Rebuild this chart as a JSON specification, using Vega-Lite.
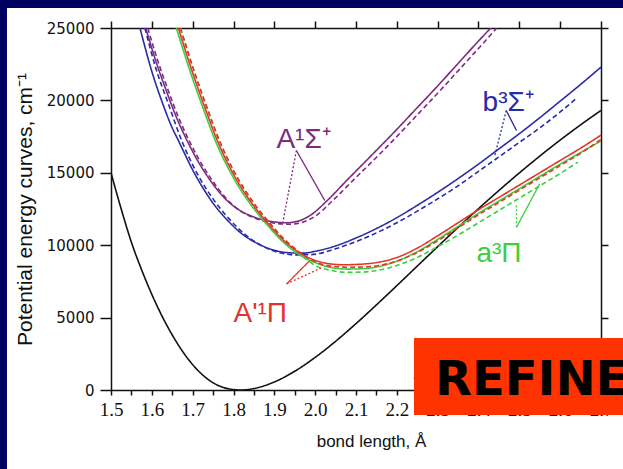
{
  "$schema": "https://vega.github.io/schema/vega-lite/v6.json",
  "width": 490,
  "height": 362,
  "autosize": {"type": "none"},
  "padding": {"left": 111, "top": 28, "right": 22, "bottom": 79},
  "background": "#ffffff",
  "config": {
    "view": {"stroke": null},
    "axis": {
      "grid": false,
      "labelColor": "#111111",
      "titleColor": "#111111",
      "domainColor": "#111111",
      "tickColor": "#111111",
      "domainWidth": 1.5,
      "tickWidth": 1.5,
      "titleFontWeight": "normal",
      "labelOverlap": false,
      "labelFlush": false,
      "labelBound": false
    }
  },
  "resolve": {"axis": {"x": "independent", "y": "independent"}},
  "datasets": {
    "curves": [
      {"s": "X", "k": "solid", "r": 1.5, "E": 15000},
      {"s": "X", "k": "solid", "r": 1.525, "E": 12500},
      {"s": "X", "k": "solid", "r": 1.55, "E": 10200},
      {"s": "X", "k": "solid", "r": 1.575, "E": 8300},
      {"s": "X", "k": "solid", "r": 1.6, "E": 6600},
      {"s": "X", "k": "solid", "r": 1.65, "E": 3800},
      {"s": "X", "k": "solid", "r": 1.7, "E": 1750},
      {"s": "X", "k": "solid", "r": 1.75, "E": 500},
      {"s": "X", "k": "solid", "r": 1.8, "E": 30},
      {"s": "X", "k": "solid", "r": 1.82, "E": 0},
      {"s": "X", "k": "solid", "r": 1.85, "E": 100},
      {"s": "X", "k": "solid", "r": 1.9, "E": 556},
      {"s": "X", "k": "solid", "r": 1.95, "E": 1296},
      {"s": "X", "k": "solid", "r": 2.0, "E": 2252},
      {"s": "X", "k": "solid", "r": 2.05, "E": 3362},
      {"s": "X", "k": "solid", "r": 2.1, "E": 4584},
      {"s": "X", "k": "solid", "r": 2.15, "E": 5877},
      {"s": "X", "k": "solid", "r": 2.2, "E": 7206},
      {"s": "X", "k": "solid", "r": 2.25, "E": 8557},
      {"s": "X", "k": "solid", "r": 2.3, "E": 9899},
      {"s": "X", "k": "solid", "r": 2.35, "E": 11228},
      {"s": "X", "k": "solid", "r": 2.4, "E": 12522},
      {"s": "X", "k": "solid", "r": 2.45, "E": 13779},
      {"s": "X", "k": "solid", "r": 2.5, "E": 14991},
      {"s": "X", "k": "solid", "r": 2.55, "E": 16152},
      {"s": "X", "k": "solid", "r": 2.6, "E": 17260},
      {"s": "X", "k": "solid", "r": 2.65, "E": 18311},
      {"s": "X", "k": "solid", "r": 2.7, "E": 19308},

      {"s": "A", "k": "solid", "r": 1.585, "E": 25000},
      {"s": "A", "k": "solid", "r": 1.61, "E": 22700},
      {"s": "A", "k": "solid", "r": 1.635, "E": 20700},
      {"s": "A", "k": "solid", "r": 1.66, "E": 18850},
      {"s": "A", "k": "solid", "r": 1.685, "E": 17300},
      {"s": "A", "k": "solid", "r": 1.71, "E": 15950},
      {"s": "A", "k": "solid", "r": 1.74, "E": 14600},
      {"s": "A", "k": "solid", "r": 1.775, "E": 13350},
      {"s": "A", "k": "solid", "r": 1.81, "E": 12500},
      {"s": "A", "k": "solid", "r": 1.85, "E": 11950},
      {"s": "A", "k": "solid", "r": 1.89, "E": 11650},
      {"s": "A", "k": "solid", "r": 1.93, "E": 11550},
      {"s": "A", "k": "solid", "r": 1.96, "E": 11680},
      {"s": "A", "k": "solid", "r": 1.99, "E": 12100},
      {"s": "A", "k": "solid", "r": 2.03, "E": 13100},
      {"s": "A", "k": "solid", "r": 2.08, "E": 14550},
      {"s": "A", "k": "solid", "r": 2.15, "E": 16550},
      {"s": "A", "k": "solid", "r": 2.2, "E": 18000},
      {"s": "A", "k": "solid", "r": 2.25, "E": 19500},
      {"s": "A", "k": "solid", "r": 2.3, "E": 21000},
      {"s": "A", "k": "solid", "r": 2.35, "E": 22550},
      {"s": "A", "k": "solid", "r": 2.4, "E": 24100},
      {"s": "A", "k": "solid", "r": 2.43, "E": 25000},

      {"s": "A", "k": "dashed", "r": 1.59, "E": 25000},
      {"s": "A", "k": "dashed", "r": 1.615, "E": 22700},
      {"s": "A", "k": "dashed", "r": 1.64, "E": 20700},
      {"s": "A", "k": "dashed", "r": 1.665, "E": 18850},
      {"s": "A", "k": "dashed", "r": 1.69, "E": 17300},
      {"s": "A", "k": "dashed", "r": 1.715, "E": 15950},
      {"s": "A", "k": "dashed", "r": 1.745, "E": 14600},
      {"s": "A", "k": "dashed", "r": 1.78, "E": 13300},
      {"s": "A", "k": "dashed", "r": 1.815, "E": 12400},
      {"s": "A", "k": "dashed", "r": 1.855, "E": 11850},
      {"s": "A", "k": "dashed", "r": 1.9, "E": 11520},
      {"s": "A", "k": "dashed", "r": 1.94, "E": 11450},
      {"s": "A", "k": "dashed", "r": 1.97, "E": 11600},
      {"s": "A", "k": "dashed", "r": 2.0, "E": 12000},
      {"s": "A", "k": "dashed", "r": 2.04, "E": 13000},
      {"s": "A", "k": "dashed", "r": 2.09, "E": 14400},
      {"s": "A", "k": "dashed", "r": 2.16, "E": 16350},
      {"s": "A", "k": "dashed", "r": 2.21, "E": 17800},
      {"s": "A", "k": "dashed", "r": 2.26, "E": 19300},
      {"s": "A", "k": "dashed", "r": 2.31, "E": 20800},
      {"s": "A", "k": "dashed", "r": 2.36, "E": 22350},
      {"s": "A", "k": "dashed", "r": 2.41, "E": 23900},
      {"s": "A", "k": "dashed", "r": 2.445, "E": 25000},

      {"s": "B", "k": "solid", "r": 1.571, "E": 25000},
      {"s": "B", "k": "solid", "r": 1.6, "E": 22000},
      {"s": "B", "k": "solid", "r": 1.625, "E": 19900},
      {"s": "B", "k": "solid", "r": 1.65, "E": 18100},
      {"s": "B", "k": "solid", "r": 1.665, "E": 17230},
      {"s": "B", "k": "solid", "r": 1.7, "E": 15200},
      {"s": "B", "k": "solid", "r": 1.75, "E": 12900},
      {"s": "B", "k": "solid", "r": 1.786, "E": 11700},
      {"s": "B", "k": "solid", "r": 1.82, "E": 10800},
      {"s": "B", "k": "solid", "r": 1.86, "E": 10100},
      {"s": "B", "k": "solid", "r": 1.9, "E": 9650},
      {"s": "B", "k": "solid", "r": 1.94, "E": 9470},
      {"s": "B", "k": "solid", "r": 1.97, "E": 9450},
      {"s": "B", "k": "solid", "r": 2.0, "E": 9580},
      {"s": "B", "k": "solid", "r": 2.05, "E": 9950},
      {"s": "B", "k": "solid", "r": 2.1, "E": 10500},
      {"s": "B", "k": "solid", "r": 2.15, "E": 11150},
      {"s": "B", "k": "solid", "r": 2.2, "E": 11900},
      {"s": "B", "k": "solid", "r": 2.25, "E": 12750},
      {"s": "B", "k": "solid", "r": 2.3, "E": 13650},
      {"s": "B", "k": "solid", "r": 2.35, "E": 14600},
      {"s": "B", "k": "solid", "r": 2.4, "E": 15600},
      {"s": "B", "k": "solid", "r": 2.45, "E": 16650},
      {"s": "B", "k": "solid", "r": 2.5, "E": 17700},
      {"s": "B", "k": "solid", "r": 2.55, "E": 18800},
      {"s": "B", "k": "solid", "r": 2.6, "E": 19950},
      {"s": "B", "k": "solid", "r": 2.65, "E": 21100},
      {"s": "B", "k": "solid", "r": 2.7, "E": 22300},

      {"s": "B", "k": "dashed", "r": 1.583, "E": 25000},
      {"s": "B", "k": "dashed", "r": 1.61, "E": 22200},
      {"s": "B", "k": "dashed", "r": 1.64, "E": 19800},
      {"s": "B", "k": "dashed", "r": 1.673, "E": 17230},
      {"s": "B", "k": "dashed", "r": 1.71, "E": 15000},
      {"s": "B", "k": "dashed", "r": 1.75, "E": 13200},
      {"s": "B", "k": "dashed", "r": 1.79, "E": 11800},
      {"s": "B", "k": "dashed", "r": 1.83, "E": 10700},
      {"s": "B", "k": "dashed", "r": 1.87, "E": 9950},
      {"s": "B", "k": "dashed", "r": 1.91, "E": 9500},
      {"s": "B", "k": "dashed", "r": 1.95, "E": 9330},
      {"s": "B", "k": "dashed", "r": 1.99, "E": 9350},
      {"s": "B", "k": "dashed", "r": 2.05, "E": 9750},
      {"s": "B", "k": "dashed", "r": 2.1, "E": 10250},
      {"s": "B", "k": "dashed", "r": 2.15, "E": 10850},
      {"s": "B", "k": "dashed", "r": 2.2, "E": 11550},
      {"s": "B", "k": "dashed", "r": 2.25, "E": 12350},
      {"s": "B", "k": "dashed", "r": 2.3, "E": 13200},
      {"s": "B", "k": "dashed", "r": 2.35, "E": 14100},
      {"s": "B", "k": "dashed", "r": 2.4, "E": 15100},
      {"s": "B", "k": "dashed", "r": 2.45, "E": 16100},
      {"s": "B", "k": "dashed", "r": 2.5, "E": 17100},
      {"s": "B", "k": "dashed", "r": 2.55, "E": 18100},
      {"s": "B", "k": "dashed", "r": 2.6, "E": 19200},
      {"s": "B", "k": "dashed", "r": 2.64, "E": 20150},

      {"s": "a", "k": "solid", "r": 1.66, "E": 25000},
      {"s": "a", "k": "solid", "r": 1.695, "E": 21900},
      {"s": "a", "k": "solid", "r": 1.725, "E": 19500},
      {"s": "a", "k": "solid", "r": 1.755, "E": 17250},
      {"s": "a", "k": "solid", "r": 1.795, "E": 14900},
      {"s": "a", "k": "solid", "r": 1.845, "E": 12700},
      {"s": "a", "k": "solid", "r": 1.875, "E": 11650},
      {"s": "a", "k": "solid", "r": 1.915, "E": 10400},
      {"s": "a", "k": "solid", "r": 1.955, "E": 9450},
      {"s": "a", "k": "solid", "r": 2.0, "E": 8800},
      {"s": "a", "k": "solid", "r": 2.04, "E": 8450},
      {"s": "a", "k": "solid", "r": 2.08, "E": 8350},
      {"s": "a", "k": "solid", "r": 2.12, "E": 8380},
      {"s": "a", "k": "solid", "r": 2.16, "E": 8550},
      {"s": "a", "k": "solid", "r": 2.2, "E": 8900},
      {"s": "a", "k": "solid", "r": 2.25, "E": 9550},
      {"s": "a", "k": "solid", "r": 2.3, "E": 10400},
      {"s": "a", "k": "solid", "r": 2.35, "E": 11300},
      {"s": "a", "k": "solid", "r": 2.4, "E": 12200},
      {"s": "a", "k": "solid", "r": 2.45, "E": 13050},
      {"s": "a", "k": "solid", "r": 2.5, "E": 13900},
      {"s": "a", "k": "solid", "r": 2.55, "E": 14750},
      {"s": "a", "k": "solid", "r": 2.6, "E": 15600},
      {"s": "a", "k": "solid", "r": 2.65, "E": 16400},
      {"s": "a", "k": "solid", "r": 2.7, "E": 17200},

      {"s": "a", "k": "dashed", "r": 1.67, "E": 25000},
      {"s": "a", "k": "dashed", "r": 1.705, "E": 21900},
      {"s": "a", "k": "dashed", "r": 1.735, "E": 19500},
      {"s": "a", "k": "dashed", "r": 1.765, "E": 17250},
      {"s": "a", "k": "dashed", "r": 1.805, "E": 14900},
      {"s": "a", "k": "dashed", "r": 1.855, "E": 12700},
      {"s": "a", "k": "dashed", "r": 1.885, "E": 11650},
      {"s": "a", "k": "dashed", "r": 1.925, "E": 10350},
      {"s": "a", "k": "dashed", "r": 1.965, "E": 9350},
      {"s": "a", "k": "dashed", "r": 2.0, "E": 8600},
      {"s": "a", "k": "dashed", "r": 2.04, "E": 8250},
      {"s": "a", "k": "dashed", "r": 2.08, "E": 8120},
      {"s": "a", "k": "dashed", "r": 2.12, "E": 8150},
      {"s": "a", "k": "dashed", "r": 2.16, "E": 8300},
      {"s": "a", "k": "dashed", "r": 2.2, "E": 8600},
      {"s": "a", "k": "dashed", "r": 2.25, "E": 9150},
      {"s": "a", "k": "dashed", "r": 2.3, "E": 9900},
      {"s": "a", "k": "dashed", "r": 2.35, "E": 10700},
      {"s": "a", "k": "dashed", "r": 2.4, "E": 11550},
      {"s": "a", "k": "dashed", "r": 2.45, "E": 12400},
      {"s": "a", "k": "dashed", "r": 2.5, "E": 13250},
      {"s": "a", "k": "dashed", "r": 2.55, "E": 14100},
      {"s": "a", "k": "dashed", "r": 2.6, "E": 14950},
      {"s": "a", "k": "dashed", "r": 2.643, "E": 15730},

      {"s": "P", "k": "solid", "r": 1.665, "E": 25000},
      {"s": "P", "k": "solid", "r": 1.7, "E": 21900},
      {"s": "P", "k": "solid", "r": 1.73, "E": 19500},
      {"s": "P", "k": "solid", "r": 1.76, "E": 17250},
      {"s": "P", "k": "solid", "r": 1.8, "E": 14900},
      {"s": "P", "k": "solid", "r": 1.85, "E": 12700},
      {"s": "P", "k": "solid", "r": 1.88, "E": 11650},
      {"s": "P", "k": "solid", "r": 1.92, "E": 10400},
      {"s": "P", "k": "solid", "r": 1.96, "E": 9500},
      {"s": "P", "k": "solid", "r": 2.0, "E": 8950},
      {"s": "P", "k": "solid", "r": 2.04, "E": 8700},
      {"s": "P", "k": "solid", "r": 2.07, "E": 8650},
      {"s": "P", "k": "solid", "r": 2.1, "E": 8670},
      {"s": "P", "k": "solid", "r": 2.15, "E": 8800},
      {"s": "P", "k": "solid", "r": 2.2, "E": 9150},
      {"s": "P", "k": "solid", "r": 2.25, "E": 9800},
      {"s": "P", "k": "solid", "r": 2.3, "E": 10650},
      {"s": "P", "k": "solid", "r": 2.35, "E": 11550},
      {"s": "P", "k": "solid", "r": 2.4, "E": 12450},
      {"s": "P", "k": "solid", "r": 2.45, "E": 13300},
      {"s": "P", "k": "solid", "r": 2.5, "E": 14150},
      {"s": "P", "k": "solid", "r": 2.55, "E": 15000},
      {"s": "P", "k": "solid", "r": 2.6, "E": 15850},
      {"s": "P", "k": "solid", "r": 2.65, "E": 16700},
      {"s": "P", "k": "solid", "r": 2.7, "E": 17600},

      {"s": "P", "k": "dashed", "r": 1.67, "E": 25000},
      {"s": "P", "k": "dashed", "r": 1.705, "E": 21900},
      {"s": "P", "k": "dashed", "r": 1.735, "E": 19500},
      {"s": "P", "k": "dashed", "r": 1.765, "E": 17250},
      {"s": "P", "k": "dashed", "r": 1.805, "E": 14900},
      {"s": "P", "k": "dashed", "r": 1.855, "E": 12700},
      {"s": "P", "k": "dashed", "r": 1.885, "E": 11650},
      {"s": "P", "k": "dashed", "r": 1.925, "E": 10400},
      {"s": "P", "k": "dashed", "r": 1.965, "E": 9450},
      {"s": "P", "k": "dashed", "r": 2.0, "E": 8850},
      {"s": "P", "k": "dashed", "r": 2.04, "E": 8550},
      {"s": "P", "k": "dashed", "r": 2.08, "E": 8480},
      {"s": "P", "k": "dashed", "r": 2.12, "E": 8500},
      {"s": "P", "k": "dashed", "r": 2.16, "E": 8620},
      {"s": "P", "k": "dashed", "r": 2.2, "E": 8900},
      {"s": "P", "k": "dashed", "r": 2.25, "E": 9500},
      {"s": "P", "k": "dashed", "r": 2.3, "E": 10300},
      {"s": "P", "k": "dashed", "r": 2.35, "E": 11200},
      {"s": "P", "k": "dashed", "r": 2.4, "E": 12100},
      {"s": "P", "k": "dashed", "r": 2.45, "E": 12950},
      {"s": "P", "k": "dashed", "r": 2.5, "E": 13800},
      {"s": "P", "k": "dashed", "r": 2.55, "E": 14650},
      {"s": "P", "k": "dashed", "r": 2.6, "E": 15500},
      {"s": "P", "k": "dashed", "r": 2.65, "E": 16350},
      {"s": "P", "k": "dashed", "r": 2.7, "E": 17300}
    ],
    "arrows": [
      {"s": "A", "k": "dotted", "r": 1.954, "E": 16540, "r2": 1.921, "E2": 11590},
      {"s": "A", "k": "solid", "r": 1.954, "E": 16540, "r2": 2.0235, "E2": 13087},
      {"s": "B", "k": "dotted", "r": 2.468, "E": 19300, "r2": 2.44, "E2": 16200},
      {"s": "B", "k": "solid", "r": 2.468, "E": 19300, "r2": 2.493, "E2": 17920},
      {"s": "a", "k": "dotted", "r": 2.493, "E": 11240, "r2": 2.493, "E2": 12800},
      {"s": "a", "k": "solid", "r": 2.493, "E": 11240, "r2": 2.55, "E2": 14240},
      {"s": "P", "k": "solid", "r": 1.93, "E": 7330, "r2": 1.987, "E2": 8943},
      {"s": "P", "k": "dotted", "r": 1.93, "E": 7330, "r2": 2.019, "E2": 8480}
    ],
    "labels": [
      {"s": "A", "t": "A¹Σ⁺", "r": 1.905, "E": 16740},
      {"s": "B", "t": "b³Σ⁺", "r": 2.41, "E": 19300},
      {"s": "P", "t": "A'¹Π", "r": 1.8, "E": 4730},
      {"s": "a", "t": "a³Π", "r": 2.395, "E": 8874},
      {"s": "X", "t": "X¹Σ⁺", "r": 2.239, "E": 794}
    ]
  },
  "layer": [
    {
      "data": {"values": [{}]},
      "mark": {"type": "rect", "color": "#000060"},
      "encoding": {
        "x": {"datum": 1.0, "type": "quantitative", "scale": {"domain": [1.5, 2.7], "nice": false, "zero": false}, "axis": null},
        "x2": {"datum": 3.0},
        "y": {"datum": 26381, "type": "quantitative", "scale": {"domain": [0, 25000], "nice": false, "zero": false}, "axis": null},
        "y2": {"datum": 30000}
      }
    },
    {
      "data": {"values": [{}]},
      "mark": {"type": "rect", "color": "#000060"},
      "encoding": {
        "x": {"datum": 1.0, "type": "quantitative", "scale": {"domain": [1.5, 2.7], "nice": false, "zero": false}, "axis": null},
        "x2": {"datum": 1.2453},
        "y": {"datum": -8000, "type": "quantitative", "scale": {"domain": [0, 25000], "nice": false, "zero": false}, "axis": null},
        "y2": {"datum": 30000}
      }
    },
    {
      "data": {"name": "curves"},
      "mark": {"type": "line", "strokeWidth": 1.6, "interpolate": "monotone", "clip": true},
      "encoding": {
        "x": {
          "field": "r", "type": "quantitative",
          "scale": {"domain": [1.5, 2.7], "nice": false, "zero": false},
          "axis": {
            "orient": "bottom",
            "values": [1.5, 1.55, 1.6, 1.65, 1.7, 1.75, 1.8, 1.85, 1.9, 1.95, 2.0, 2.05, 2.1, 2.15, 2.2, 2.25, 2.3, 2.35, 2.4, 2.45, 2.5, 2.55, 2.6, 2.65, 2.7],
            "labelExpr": "abs(datum.value * 10 - round(datum.value * 10)) > 0.01 ? '' : format(datum.value, '.1f')",
            "labelFont": "Liberation Serif",
            "labelFontSize": 19,
            "tickSize": 5,
            "labelPadding": 5,
            "title": "bond length, Å",
            "titleFont": "Liberation Sans",
            "titleFontSize": 17,
            "titlePadding": 14,
            "titleX": 260
          }
        },
        "y": {
          "field": "E", "type": "quantitative",
          "scale": {"domain": [0, 25000], "nice": false, "zero": false},
          "axis": {
            "orient": "left",
            "values": [0, 5000, 10000, 15000, 20000, 25000],
            "format": "d",
            "labelFont": "DejaVu Sans",
            "labelFontSize": 15,
            "tickSize": 11,
            "labelPadding": 6,
            "title": "Potential energy curves, cm⁻¹",
            "titleFont": "Liberation Sans",
            "titleFontSize": 21,
            "titlePadding": 11
          }
        },
        "color": {
          "field": "s", "type": "nominal", "legend": null,
          "scale": {"domain": ["X", "A", "B", "P", "a"], "range": ["#111111", "#7d2b80", "#2a2aa6", "#e3342b", "#3ccf3c"]}
        },
        "strokeDash": {
          "field": "k", "type": "nominal", "legend": null,
          "scale": {"domain": ["solid", "dashed", "dotted"], "range": [[1, 0], [5, 3], [2, 2]]}
        }
      }
    },
    {
      "data": {"name": "arrows"},
      "mark": {"type": "rule", "strokeWidth": 1.3},
      "encoding": {
        "x": {"field": "r", "type": "quantitative", "scale": {"domain": [1.5, 2.7], "nice": false, "zero": false}, "axis": null},
        "x2": {"field": "r2"},
        "y": {"field": "E", "type": "quantitative", "scale": {"domain": [0, 25000], "nice": false, "zero": false}, "axis": null},
        "y2": {"field": "E2"},
        "color": {"field": "s", "type": "nominal", "legend": null},
        "strokeDash": {"field": "k", "type": "nominal", "legend": null}
      }
    },
    {
      "data": {"name": "labels"},
      "mark": {"type": "text", "font": "Liberation Sans", "fontSize": 28, "align": "left", "baseline": "alphabetic"},
      "encoding": {
        "x": {"field": "r", "type": "quantitative", "scale": {"domain": [1.5, 2.7], "nice": false, "zero": false}, "axis": null},
        "y": {"field": "E", "type": "quantitative", "scale": {"domain": [0, 25000], "nice": false, "zero": false}, "axis": null},
        "text": {"field": "t"},
        "color": {"field": "s", "type": "nominal", "legend": null}
      }
    },
    {
      "data": {"values": [{"r": 1.5, "E": 0}]},
      "mark": {"type": "point", "opacity": 0},
      "encoding": {
        "x": {
          "field": "r", "type": "quantitative",
          "scale": {"domain": [1.5, 2.7], "nice": false, "zero": false},
          "axis": {"orient": "top", "values": [1.5, 1.6, 1.7, 1.8, 1.9, 2.0, 2.1, 2.2, 2.3, 2.4, 2.5, 2.6, 2.7], "labelExpr": "''", "tickSize": 7, "title": null}
        },
        "y": {
          "field": "E", "type": "quantitative",
          "scale": {"domain": [0, 25000], "nice": false, "zero": false},
          "axis": {"orient": "right", "values": [0, 5000, 10000, 15000, 20000, 25000], "labelExpr": "''", "tickSize": 7, "title": null}
        }
      }
    },
    {
      "data": {"values": [{}]},
      "mark": {"type": "rect", "color": "#ff3300"},
      "encoding": {
        "x": {"datum": 2.242, "type": "quantitative", "scale": {"domain": [1.5, 2.7], "nice": false, "zero": false}, "axis": null},
        "x2": {"datum": 2.9},
        "y": {"datum": -1727, "type": "quantitative", "scale": {"domain": [0, 25000], "nice": false, "zero": false}, "axis": null},
        "y2": {"datum": 3591}
      }
    },
    {
      "data": {"values": [{}]},
      "mark": {"type": "text", "text": "REFINE", "font": "DejaVu Sans", "fontWeight": "bold", "fontSize": 48, "align": "left", "baseline": "alphabetic", "color": "#000000"},
      "encoding": {
        "x": {"datum": 2.2935, "type": "quantitative", "scale": {"domain": [1.5, 2.7], "nice": false, "zero": false}, "axis": null},
        "y": {"datum": -345, "type": "quantitative", "scale": {"domain": [0, 25000], "nice": false, "zero": false}, "axis": null}
      }
    }
  ]
}
